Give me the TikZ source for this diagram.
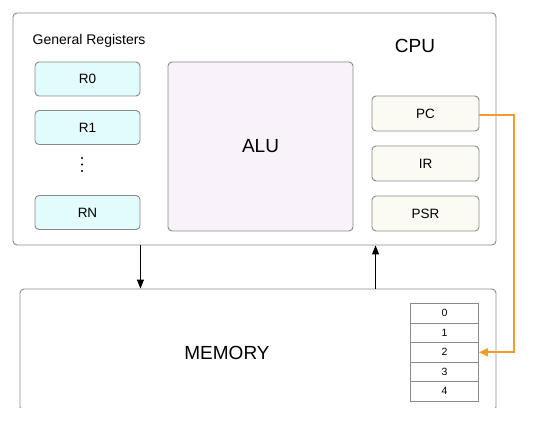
\documentclass[tikz,border=0pt]{standalone}
\usepackage{fontspec}
\setmainfont{Liberation Sans}
\usetikzlibrary{arrows.meta}
\definecolor{regcyan}{HTML}{E2FBFD}
\definecolor{alupink}{HTML}{F9F2FA}
\definecolor{ctlbeige}{HTML}{FBFBF3}
\definecolor{boxgray}{HTML}{8A8A8A}
\definecolor{pcorange}{HTML}{F79A2E}
\tikzset{
  box/.style={draw=boxgray,line width=0.9pt,rounded corners=4pt,inner sep=0pt},
  reg/.style={box,fill=regcyan,minimum width=105pt,minimum height=34pt,font=\fontsize{13.5}{15}\selectfont},
  ctl/.style={box,fill=ctlbeige,minimum width=107pt,minimum height=35pt,font=\fontsize{13.5}{15}\selectfont},
  cell/.style={draw=boxgray,line width=0.9pt,minimum width=68pt,minimum height=19.5pt,inner sep=0pt,font=\fontsize{10.5}{12}\selectfont},
  arr/.style={-{Triangle[length=9pt,width=7pt]},line width=1pt},
}
\begin{document}
\begin{tikzpicture}[x=1pt,y=-1pt]
\useasboundingbox (0,0) rectangle (542,422);

\node[box,minimum width=483pt,minimum height=232pt] (cpu) at (254.5,129) {};
\node[anchor=west,inner sep=0pt,font=\fontsize{14}{16}\selectfont] (genreg) at (32.5,41) {General Registers};
\node[font=\fontsize{19}{22}\selectfont] (cpulabel) at (415,46) {CPU};

\node[reg] (r0) at (87.5,79) {R0};
\node[reg] (r1) at (87.5,127.5) {R1};
\foreach \d in {0,1,2}
  \fill (82,158+6.5*\d) circle (1.2pt);
\node[reg] (rn) at (87.5,212.5) {RN};

\node[box,fill=alupink,minimum width=185pt,minimum height=169pt,font=\fontsize{19}{22}\selectfont] (alu) at (260.5,146.5) {ALU};

\node[ctl] (pc) at (425.5,113.5) {PC};
\node[ctl] (ir) at (425.5,163.5) {IR};
\node[ctl] (psr) at (425.5,213.5) {PSR};

% memory is cut off at the bottom
\begin{scope}
\clip (0,0) rectangle (542,407.5);
\node[box,minimum width=476pt,minimum height=122pt] (mem) at (258,350) {};
\end{scope}
\node[font=\fontsize{19}{22}\selectfont] (memlabel) at (227,353) {MEMORY};

\foreach \i in {0,...,4}
  \node[cell] (c\i) at (444.5,313.3+19.5*\i) {\i};

\draw[arr] (rn.east |- cpu.south) -- (rn.east |- mem.north);
\draw[arr] ([xshift=4pt]psr.west |- mem.north) -- ([xshift=4pt]psr.west |- cpu.south);

\draw[pcorange,line width=1.6pt,-{Triangle[length=9pt,width=8pt]}] ([yshift=-1.5pt]pc.east) -- ++(34.5,0) |- (c2.east);

\end{tikzpicture}
\end{document}
